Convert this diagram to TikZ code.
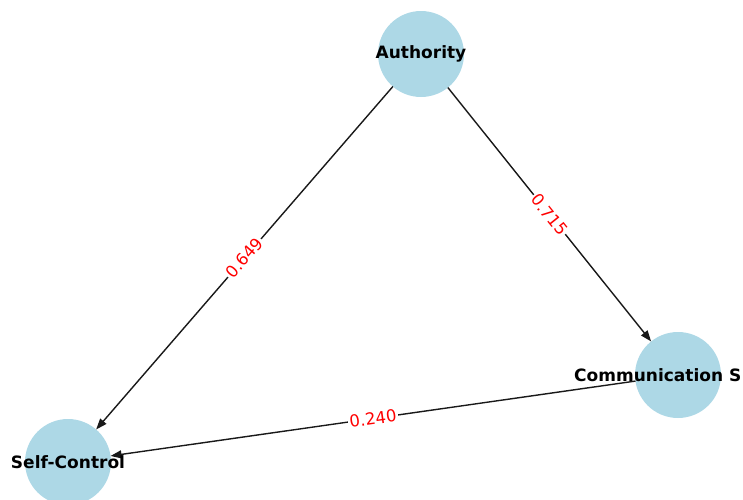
\documentclass[tikz,border=0pt]{standalone}
\usepackage{fontspec}
\usetikzlibrary{arrows.meta}
\newfontfamily\labelfont{DejaVu Sans}
\definecolor{nodeblue}{RGB}{173,216,230}
\tikzset{
  factor/.style={circle,fill=nodeblue,minimum size=86pt,inner sep=0pt,outer sep=0pt},
  factortext/.style={font=\labelfont\bfseries\fontsize{17}{19}\selectfont,inner sep=0pt},
  weight/.style={font=\labelfont\fontsize{16.5}{19}\selectfont,text=red,fill=white,inner sep=1.5pt,sloped}
}
\begin{document}
\begin{tikzpicture}[x=1pt,y=-1pt]
      \useasboundingbox (0,0) rectangle (743,499);
      \draw
        (421,54) node[factor] (auth){}
        (678,375) node[factor] (comm){}
        (68,462) node[factor] (self){};
      \begin{scope}[-{Triangle[length=11pt,width=8pt]},line width=1.4pt,black!90]
        \draw (auth) to node[weight]{0.649} (self);
        \draw (auth) to node[weight]{0.715} (comm);
        \draw (comm) to node[weight]{0.240} (self);
      \end{scope}
      \node[factortext] (authtext) at (auth) {Authority};
      \node[factortext,anchor=west] (commtext) at (574,375) {Communication S};
      \node[factortext] (selftext) at (self) {Self-Control};
    \end{tikzpicture}
\end{document}
